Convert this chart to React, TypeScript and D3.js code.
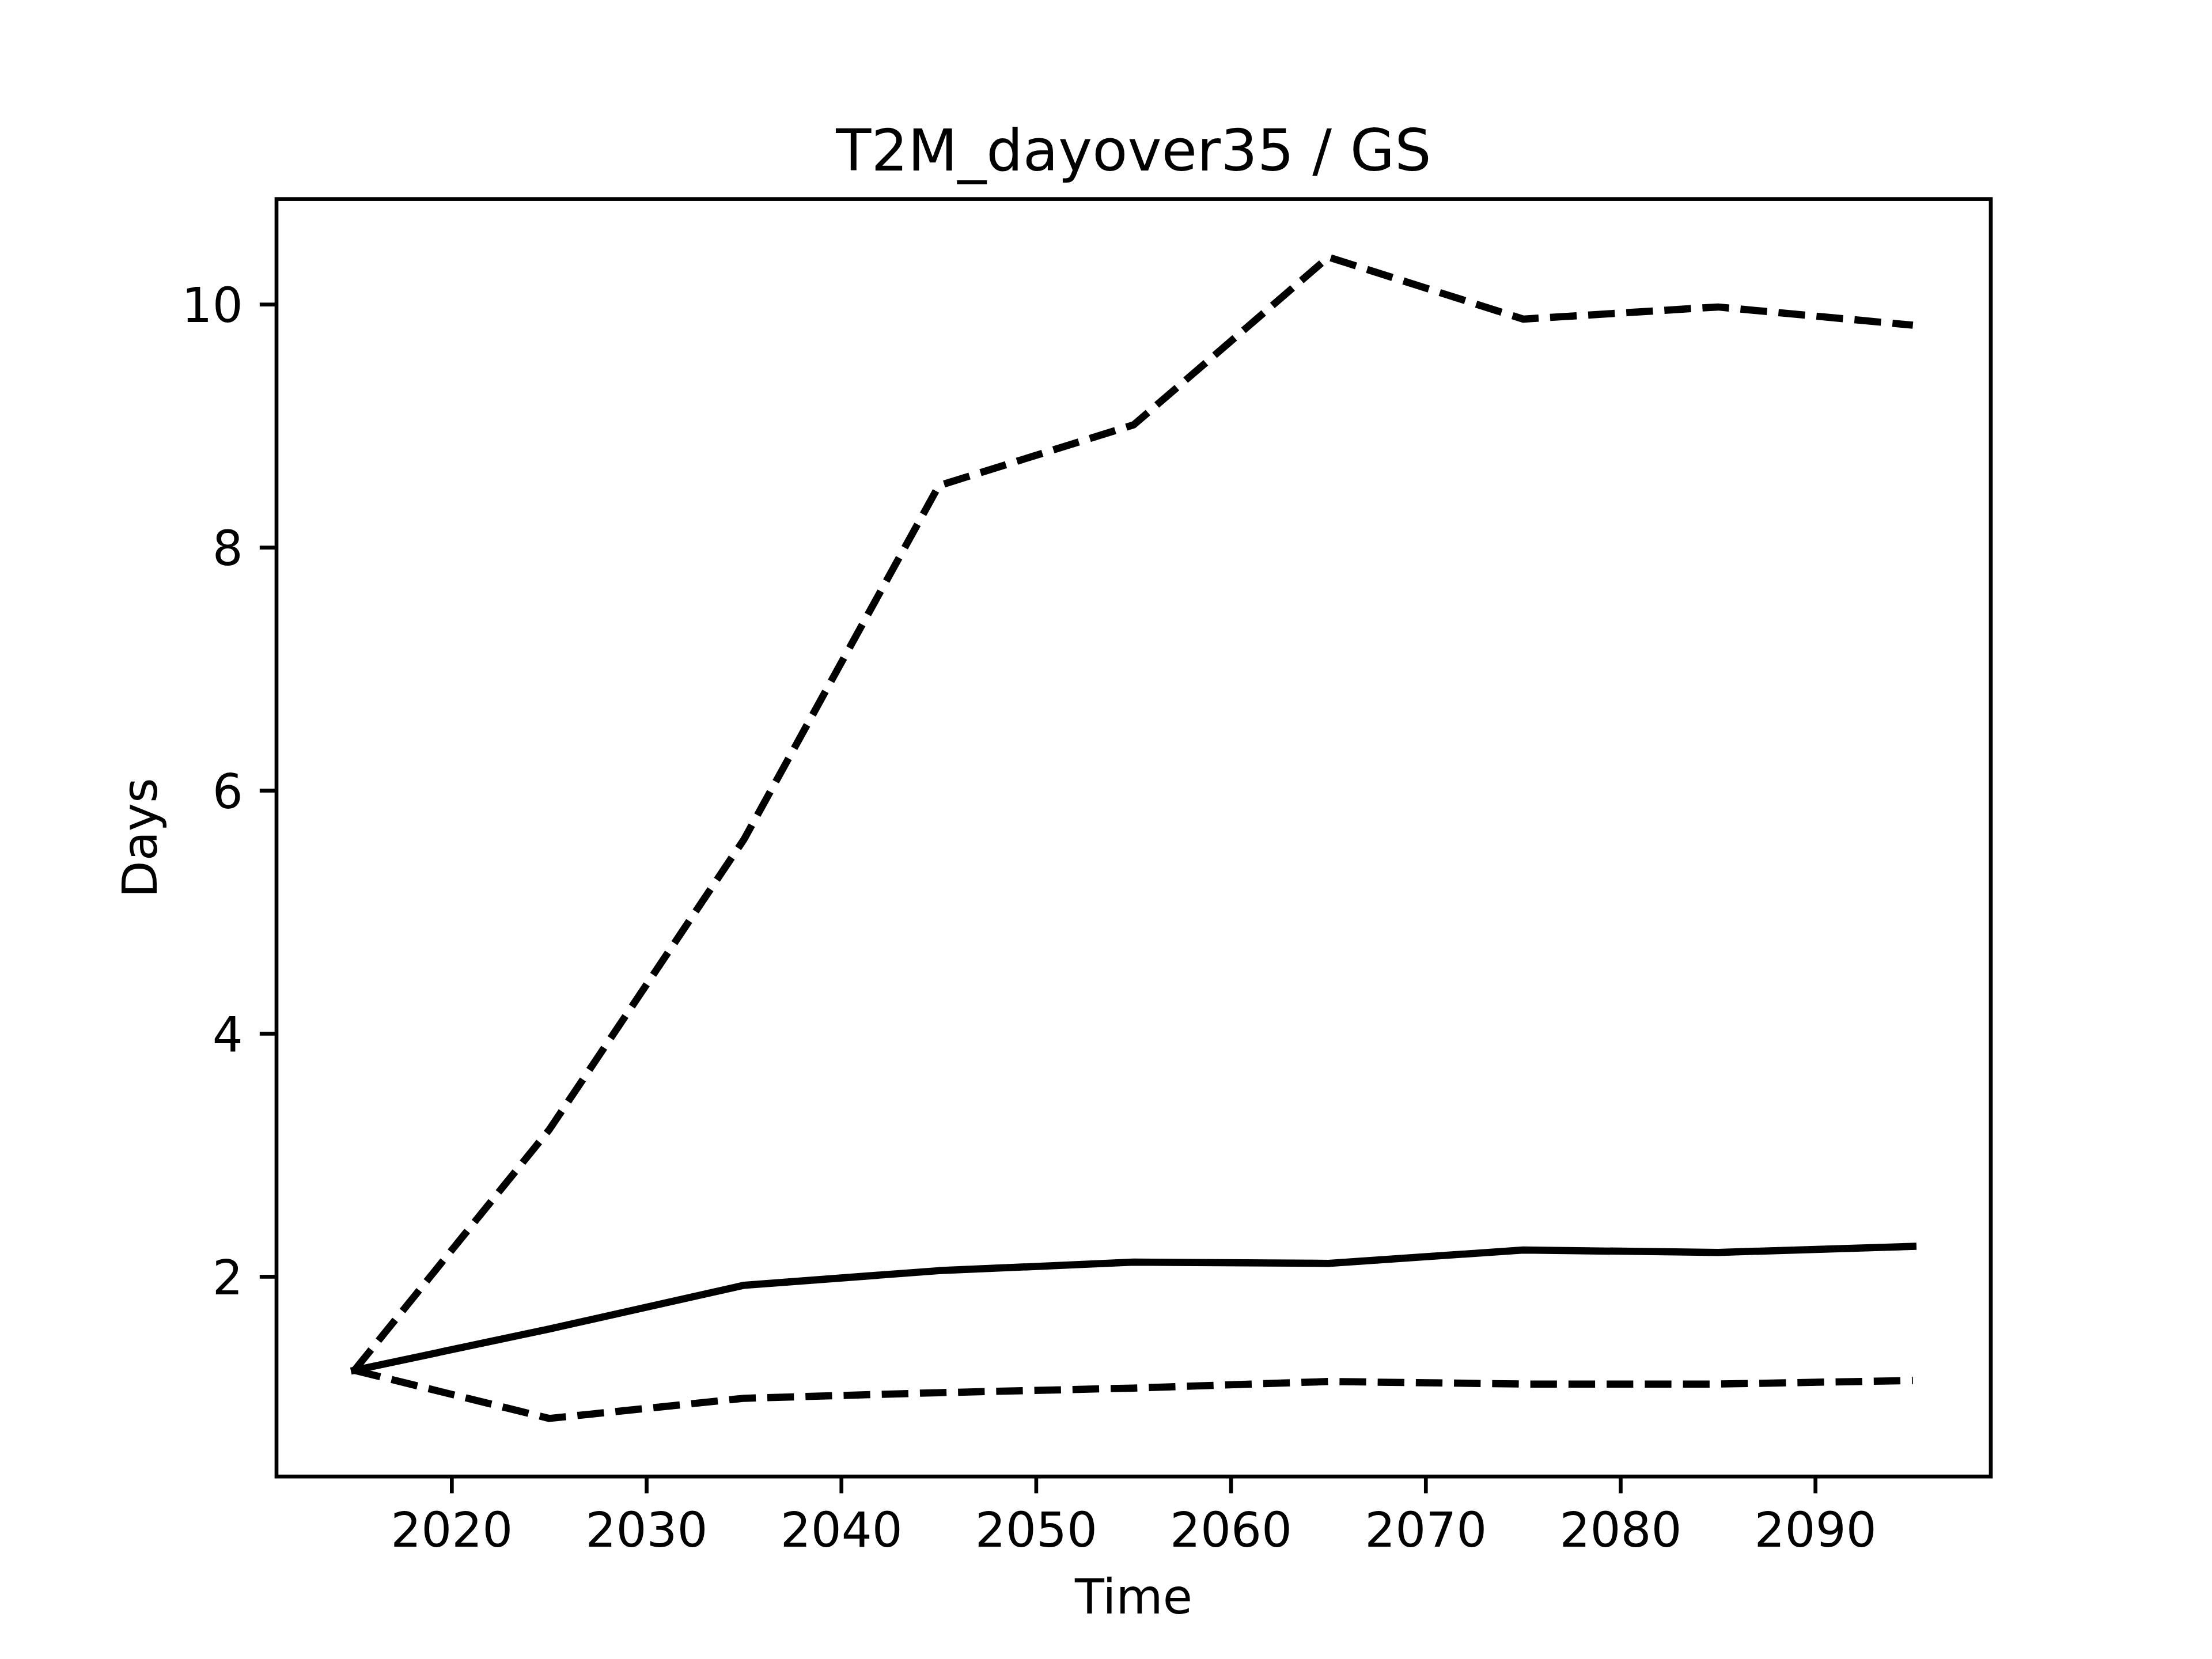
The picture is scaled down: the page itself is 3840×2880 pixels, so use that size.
import React from "react";
import * as d3 from "d3";

const years = [2015, 2025, 2035, 2045, 2055, 2065, 2075, 2085, 2095];
const upper = [1.23, 3.21, 5.6, 8.51, 9.01, 10.39, 9.88, 9.98, 9.83];
const median = [1.23, 1.57, 1.93, 2.05, 2.12, 2.11, 2.22, 2.2, 2.25];
const lower = [1.23, 0.834, 1.0, 1.046, 1.084, 1.138, 1.117, 1.117, 1.146];
const xTicks = [2020, 2030, 2040, 2050, 2060, 2070, 2080, 2090];
const yTicks = [2, 4, 6, 8, 10];
const title = "T2M_dayover35 / GS";
const xLabel = "Time";
const yLabel = "Days";

const W = 3840;
const H = 2880;
const L = 480, R = 3456, T = 345.6, B = 2563.2;
const FONT = "DejaVu Sans";

export default function App() {
  const xmin = d3.min(years)!, xmax = d3.max(years)!;
  const xm = (xmax - xmin) * 0.05;
  const all = [...upper, ...median, ...lower];
  const ymin = d3.min(all)!, ymax = d3.max(all)!;
  const ym = (ymax - ymin) * 0.05;
  const x = d3.scaleLinear().domain([xmin - xm, xmax + xm]).range([L, R]);
  const y = d3.scaleLinear().domain([ymin - ym, ymax + ym]).range([B, T]);
  const line = d3.line<number>().x((_, i) => x(years[i])).y((d) => y(d));

  const lw = 12.5;
  const dash = "46.25,20";
  const tickLen = 29.17;
  const spineW = 6.67;
  const fs = 83.33;

  return (
    <svg width={W} height={H} style={{ position: "absolute", left: 0, top: 0, background: "white" }} fontFamily={FONT}>
      <rect x={0} y={0} width={W} height={H} fill="white" />
      <g>
        <path d={line(upper)!} fill="none" stroke="black" strokeWidth={lw} strokeDasharray={dash} strokeLinejoin="round" strokeLinecap="butt" />
        <path d={line(median)!} fill="none" stroke="black" strokeWidth={lw} strokeLinejoin="round" strokeLinecap="square" />
        <path d={line(lower)!} fill="none" stroke="black" strokeWidth={lw} strokeDasharray={dash} strokeLinejoin="round" strokeLinecap="butt" />
      </g>
      <rect x={L} y={T} width={R - L} height={B - T} fill="none" stroke="black" strokeWidth={spineW} strokeLinejoin="miter" />
      {xTicks.map((t) => (
        <g key={"x" + t}>
          <line x1={x(t)} x2={x(t)} y1={B} y2={B + tickLen} stroke="black" strokeWidth={spineW} />
          <text x={x(t)} y={2685} fontSize={fs} textAnchor="middle">{t}</text>
        </g>
      ))}
      {yTicks.map((t) => (
        <g key={"y" + t}>
          <line x1={L - tickLen} x2={L} y1={y(t)} y2={y(t)} stroke="black" strokeWidth={spineW} />
          <text x={L - 2 * tickLen} y={y(t) + 30.4} fontSize={fs} textAnchor="end">{t}</text>
        </g>
      ))}
      <text x={(L + R) / 2} y={295.6} fontSize={100} textAnchor="middle">{title}</text>
      <text x={(L + R) / 2} y={2801} fontSize={fs} textAnchor="middle">{xLabel}</text>
      <text transform={`translate(272, ${(T + B) / 2}) rotate(-90)`} fontSize={fs} textAnchor="middle">{yLabel}</text>
    </svg>
  );
}
